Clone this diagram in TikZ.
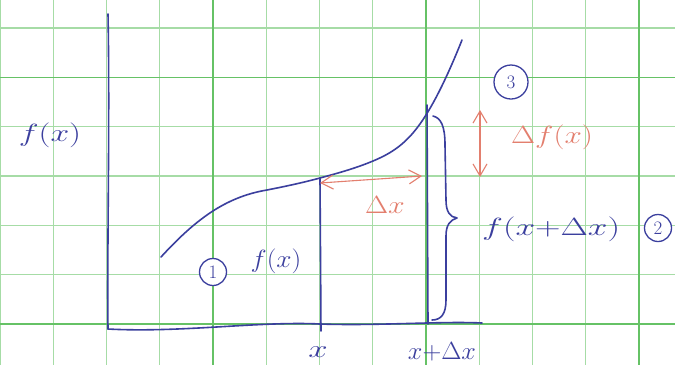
\documentclass[tikz,border=0pt]{standalone}
\usepackage{graphicx}
\usetikzlibrary{arrows.meta}
\definecolor{pen}{HTML}{3B3F9E}
\definecolor{redpen}{HTML}{E37F6E}
\definecolor{gridminor}{HTML}{A6DCA6}
\definecolor{gridmajor}{HTML}{66C266}
\newcommand{\hw}[2][1.25]{\scalebox{#1}[1]{$#2$}}
\begin{document}
\begin{tikzpicture}[x=1pt,y=-1pt,
  bluepen/.style={draw=pen, line width=1.6pt, line cap=round, line join=round},
  redarrow/.style={draw=redpen, line width=1.1pt, line cap=round, {Straight Barb[length=12pt,width=14pt]}-{Straight Barb[length=12pt,width=14pt]}},
  bluelab/.style={text=pen, font=\fontsize{32}{36}\selectfont, inner sep=0pt},
  redlab/.style={text=redpen, font=\fontsize{28}{32}\selectfont, inner sep=0pt},
  num/.style={circle, draw=pen, line width=1.3pt, text=pen, inner sep=0pt, fill=white, font=\fontsize{19}{21}\selectfont}
]
\useasboundingbox (0,0) rectangle (675,365);
\fill[white] (0,0) rectangle (675,365);
% grid
\foreach \i in {0,...,12} {\draw[gridminor, line width=1.3pt] (\i*53.25,0) -- (\i*53.25,365);}
\foreach \j in {0,...,6} {\draw[gridminor, line width=1.3pt] (0,28+\j*49.3) -- (675,28+\j*49.3);}
\foreach \i in {4,8,12} {\draw[gridmajor, line width=1.4pt] (\i*53.25,0) -- (\i*53.25,365);}
\foreach \j in {1,6} {\draw[gridmajor, line width=1.4pt] (0,28+\j*49.3) -- (675,28+\j*49.3);}
% axes
\coordinate (ytop) at (108,14);
\coordinate (orig) at (108,329);
\coordinate (xend) at (482,323);
\draw[bluepen] (ytop) .. controls (110,120) and (107,250) .. (orig);
\draw[bluepen] (orig) .. controls (180,333) and (260,321) .. (320,324) .. controls (380,326) and (440,321) .. (xend);
% curve
\coordinate (c0) at (161,257);
\coordinate (c2) at (267,190);
\coordinate (c3) at (320,178);
\coordinate (c4) at (373,161);
\coordinate (c5) at (417,128);
\coordinate (c6) at (462,40);
\draw[bluepen] (c0) .. controls (195,220) and (225,197) .. (c2)
  .. controls (284.7,186.5) and (302.3,182.8) .. (c3)
  .. controls (337.7,173.2) and (355.3,168.4) .. (c4)
  .. controls (387.7,154.8) and (402.3,147.1) .. (c5)
  .. controls (432,108.5) and (447,77.5) .. (c6);
% vertical strips
\coordinate (xtop) at (320,178);
\coordinate (xbot) at (321,331);
\coordinate (xdtop) at (427,105);
\coordinate (xdbot) at (428,324);
\draw[bluepen] (xtop) -- (xbot);
\draw[bluepen] (xdtop) -- (xdbot);
% brace
\coordinate (bt) at (433,116);
\coordinate (bb) at (432,320);
\draw[bluepen] (bt) .. controls (441,118) and (445,126) .. (445,145) -- (446,200) .. controls (446,212) and (450,217) .. (457,218) .. controls (450,220) and (446,225) .. (446,236) -- (446,300) .. controls (446,314) and (441,320) .. (bb);
% red arrows
\coordinate (hl) at (320,183);
\coordinate (hr) at (422,176);
\coordinate (vt) at (480,110);
\coordinate (vb) at (480,177);
\draw[redarrow] (hl) -- (hr);
\draw[redarrow] (vt) -- (vb);
% labels
\node[bluelab, font=\fontsize{34}{38}\selectfont] (fl) at (50,135) {\hw[1.35]{f(x)}};
\node[num, minimum size=27pt] (n1) at (213,272) {1};
\node[bluelab, font=\fontsize{32}{36}\selectfont] (f1) at (276,261) {\hw[1.1]{f(x)}};
\node[redlab, font=\fontsize{27}{30}\selectfont] (dx) at (385,205) {\hw[1.2]{\Delta x}};
\node[redlab, font=\fontsize{31}{34}\selectfont] (df) at (552,137) {\hw[1.25]{\Delta f(x)}};
\node[bluelab, anchor=west] (f2) at (482,229) {\hw[1.42]{f(x{+}\Delta x)}};
\node[num, minimum size=27pt] (n2) at (658,228) {2};
\node[num, minimum size=34pt] (n3) at (511,82) {3};
\node[bluelab, font=\fontsize{34}{38}\selectfont] (lx) at (318,352) {\hw[1.4]{x}};
\node[bluelab, font=\fontsize{30}{34}\selectfont] (lxd) at (442,352) {\hw[1.05]{x{+}\Delta x}};
\end{tikzpicture}
\end{document}
